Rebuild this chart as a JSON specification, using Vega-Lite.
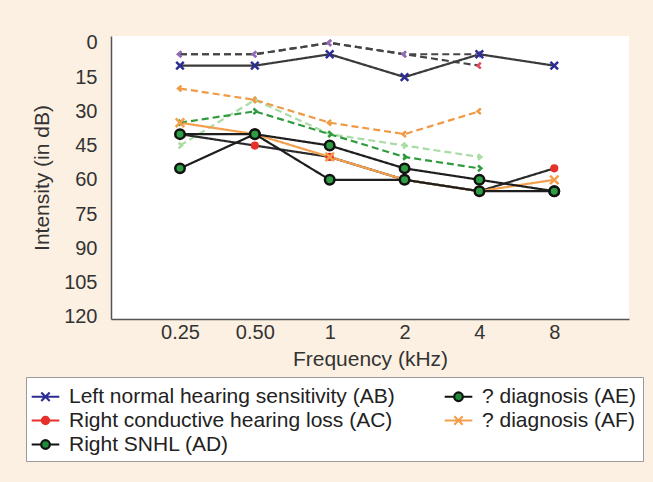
{
  "$schema": "https://vega.github.io/schema/vega-lite/v6.json",
  "width": 518,
  "height": 283,
  "autosize": {"type": "none"},
  "padding": {"left": 111, "top": 36, "right": 24, "bottom": 163},
  "background": "#fcf0e2",
  "config": {
    "font": "Liberation Sans",
    "view": {"fill": "white", "stroke": null},
    "axis": {
      "domainColor": "#555555",
      "domainWidth": 1.5,
      "ticks": false,
      "grid": false,
      "labelFontSize": 20,
      "labelColor": "#333333",
      "titleFontSize": 21,
      "titleFontWeight": "normal",
      "titleColor": "#333333"
    },
    "legend": {
      "labelFontSize": 21,
      "labelColor": "#222222",
      "labelLimit": 500,
      "padding": 6,
      "rowPadding": 0,
      "columnPadding": 45,
      "labelOffset": 10,
      "symbolSize": 576,
      "symbolStrokeWidth": 2.2,
      "strokeColor": "#9a9a9a",
      "fillColor": "#ffffff"
    }
  },
  "data": {
    "values": [
      {"s": "BC (AE)", "c": "bone", "f": "0.25", "db": 45},
      {"s": "BC (AE)", "c": "bone", "f": "0.50", "db": 25},
      {"s": "BC (AE)", "c": "bone", "f": "1", "db": 40},
      {"s": "BC (AE)", "c": "bone", "f": "2", "db": 45},
      {"s": "BC (AE)", "c": "bone", "f": "4", "db": 50},
      {"s": "BC (AD)", "c": "bone", "f": "0.25", "db": 35},
      {"s": "BC (AD)", "c": "bone", "f": "0.50", "db": 30},
      {"s": "BC (AD)", "c": "bone", "f": "1", "db": 40},
      {"s": "BC (AD)", "c": "bone", "f": "2", "db": 50},
      {"s": "BC (AD)", "c": "bone", "f": "4", "db": 55},
      {"s": "BC (AF)", "c": "bone", "f": "0.25", "db": 20},
      {"s": "BC (AF)", "c": "bone", "f": "0.50", "db": 25},
      {"s": "BC (AF)", "c": "bone", "f": "1", "db": 35},
      {"s": "BC (AF)", "c": "bone", "f": "2", "db": 40},
      {"s": "BC (AF)", "c": "bone", "f": "4", "db": 30},
      {"s": "BC right", "c": "bone", "f": "0.25", "db": 5},
      {"s": "BC right", "c": "bone", "f": "0.50", "db": 5},
      {"s": "BC right", "c": "bone", "f": "1", "db": 0},
      {"s": "BC right", "c": "bone", "f": "2", "db": 5},
      {"s": "BC right", "c": "bone", "f": "4", "db": 10},
      {"s": "BC left", "c": "bone", "f": "0.25", "db": 5},
      {"s": "BC left", "c": "bone", "f": "0.50", "db": 5},
      {"s": "BC left", "c": "bone", "f": "1", "db": 0},
      {"s": "BC left", "c": "bone", "f": "2", "db": 5},
      {"s": "BC left", "c": "bone", "f": "4", "db": 5},
      {"s": "Right conductive hearing loss (AC)", "c": "air", "f": "0.25", "db": 40},
      {"s": "Right conductive hearing loss (AC)", "c": "air", "f": "0.50", "db": 45},
      {"s": "Right conductive hearing loss (AC)", "c": "air", "f": "1", "db": 50},
      {"s": "Right conductive hearing loss (AC)", "c": "air", "f": "2", "db": 60},
      {"s": "Right conductive hearing loss (AC)", "c": "air", "f": "4", "db": 65},
      {"s": "Right conductive hearing loss (AC)", "c": "air", "f": "8", "db": 55},
      {"s": "? diagnosis (AF)", "c": "air", "f": "0.25", "db": 35},
      {"s": "? diagnosis (AF)", "c": "air", "f": "0.50", "db": 40},
      {"s": "? diagnosis (AF)", "c": "air", "f": "1", "db": 50},
      {"s": "? diagnosis (AF)", "c": "air", "f": "2", "db": 60},
      {"s": "? diagnosis (AF)", "c": "air", "f": "4", "db": 65},
      {"s": "? diagnosis (AF)", "c": "air", "f": "8", "db": 60},
      {"s": "Left normal hearing sensitivity (AB)", "c": "air", "f": "0.25", "db": 10},
      {"s": "Left normal hearing sensitivity (AB)", "c": "air", "f": "0.50", "db": 10},
      {"s": "Left normal hearing sensitivity (AB)", "c": "air", "f": "1", "db": 5},
      {"s": "Left normal hearing sensitivity (AB)", "c": "air", "f": "2", "db": 15},
      {"s": "Left normal hearing sensitivity (AB)", "c": "air", "f": "4", "db": 5},
      {"s": "Left normal hearing sensitivity (AB)", "c": "air", "f": "8", "db": 10},
      {"s": "Right SNHL (AD)", "c": "air", "f": "0.25", "db": 40},
      {"s": "Right SNHL (AD)", "c": "air", "f": "0.50", "db": 40},
      {"s": "Right SNHL (AD)", "c": "air", "f": "1", "db": 45},
      {"s": "Right SNHL (AD)", "c": "air", "f": "2", "db": 55},
      {"s": "Right SNHL (AD)", "c": "air", "f": "4", "db": 60},
      {"s": "Right SNHL (AD)", "c": "air", "f": "8", "db": 65},
      {"s": "? diagnosis (AE)", "c": "air", "f": "0.25", "db": 55},
      {"s": "? diagnosis (AE)", "c": "air", "f": "0.50", "db": 40},
      {"s": "? diagnosis (AE)", "c": "air", "f": "1", "db": 60},
      {"s": "? diagnosis (AE)", "c": "air", "f": "2", "db": 60},
      {"s": "? diagnosis (AE)", "c": "air", "f": "4", "db": 65},
      {"s": "? diagnosis (AE)", "c": "air", "f": "8", "db": 65}
    ]
  },
  "encoding": {
    "x": {
      "field": "f",
      "type": "ordinal",
      "sort": ["0.25", "0.50", "1", "2", "4", "8"],
      "scale": {"type": "point", "domain": ["0.25", "0.50", "1", "2", "4", "8"], "padding": 0.96, "align": 0.48},
      "axis": {"title": "Frequency (kHz)", "labelAngle": 0, "labelPadding": 3, "titlePadding": 6}
    },
    "y": {
      "field": "db",
      "type": "quantitative",
      "scale": {"domain": [-3, 121], "reverse": true, "nice": false, "zero": false},
      "axis": {"title": "Intensity (in dB)", "values": [0, 15, 30, 45, 60, 75, 90, 105, 120], "labelPadding": 14, "titlePadding": 11}
    }
  },
  "layer": [
    {
      "mark": {"type": "line", "strokeWidth": 2.2},
      "encoding": {
        "stroke": {
          "field": "s",
          "type": "nominal",
          "scale": {
            "domain": ["Left normal hearing sensitivity (AB)", "Right conductive hearing loss (AC)", "Right SNHL (AD)", "? diagnosis (AE)", "? diagnosis (AF)", "BC left", "BC right", "BC (AF)", "BC (AD)", "BC (AE)"],
            "range": ["#3a3a3a", "#2a2a2a", "#1e1e1e", "#1e1e1e", "#f2a04e", "#454545", "#454545", "#f09a45", "#2f9a3e", "#a9dba5"]
          },
          "legend": null
        },
        "strokeDash": {
          "field": "c",
          "type": "nominal",
          "scale": {"domain": ["air", "bone"], "range": [[1, 0], [7, 4]]},
          "legend": null
        }
      }
    },
    {
      "mark": {"type": "point", "opacity": 1, "strokeWidth": 2.5, "size": 90},
      "encoding": {
        "shape": {
          "field": "s",
          "type": "nominal",
          "scale": {
            "domain": ["Left normal hearing sensitivity (AB)", "Right conductive hearing loss (AC)", "Right SNHL (AD)", "? diagnosis (AE)", "? diagnosis (AF)", "BC left", "BC right", "BC (AF)", "BC (AD)", "BC (AE)"],
            "range": [
              "M-0.8,-0.8L0.8,0.8M-0.8,0.8L0.8,-0.8",
              "M-0.6,0A0.6,0.6 0 1,0 0.6,0A0.6,0.6 0 1,0 -0.6,0Z",
              "circle",
              "circle",
              "M-0.9,-0.9L0.9,0.9M-0.9,0.9L0.9,-0.9",
              "M0.3,-0.6L-0.4,0L0.3,0.6",
              "M0.3,-0.6L-0.4,0L0.3,0.6",
              "M0.3,-0.6L-0.4,0L0.3,0.6",
              "M-0.3,-0.6L0.4,0L-0.3,0.6",
              "M-0.3,-0.6L0.4,0L-0.3,0.6"
            ]
          },
          "legend": null
        },
        "fill": {
          "field": "s",
          "type": "nominal",
          "scale": {
            "domain": ["Left normal hearing sensitivity (AB)", "Right conductive hearing loss (AC)", "Right SNHL (AD)", "? diagnosis (AE)", "? diagnosis (AF)", "BC left", "BC right", "BC (AF)", "BC (AD)", "BC (AE)"],
            "range": ["transparent", "#e8302a", "#2e9e45", "#2e9e45", "transparent", "transparent", "transparent", "transparent", "transparent", "transparent"]
          },
          "legend": null
        },
        "stroke": {
          "field": "s",
          "type": "nominal",
          "scale": {
            "domain": ["Left normal hearing sensitivity (AB)", "Right conductive hearing loss (AC)", "Right SNHL (AD)", "? diagnosis (AE)", "? diagnosis (AF)", "BC left", "BC right", "BC (AF)", "BC (AD)", "BC (AE)"],
            "range": ["#2c2d92", "#e8302a", "#111111", "#111111", "#f2a04e", "#8a6fc0", "#e04a5a", "#f09a45", "#2f9a3e", "#a9dba5"]
          },
          "legend": null
        }
      }
    },
    {
      "transform": [{"filter": "datum.s === 'none'"}],
      "mark": {"type": "point", "opacity": 1},
      "encoding": {
        "shape": {
          "field": "s",
          "type": "nominal",
          "scale": {
            "domain": ["Left normal hearing sensitivity (AB)", "? diagnosis (AE)", "Right conductive hearing loss (AC)", "? diagnosis (AF)", "Right SNHL (AD)"],
            "range": [
              "M-1.15,0H1.15M-0.35,-0.35L0.35,0.35M-0.35,0.35L0.35,-0.35",
              "M-1.15,0H-0.36M0.36,0H1.15M-0.36,0A0.36,0.36 0 1,0 0.36,0A0.36,0.36 0 1,0 -0.36,0Z",
              "M-1.15,0H1.15M-0.3,0A0.3,0.3 0 1,0 0.3,0A0.3,0.3 0 1,0 -0.3,0Z",
              "M-1.15,0H1.15M-0.35,-0.35L0.35,0.35M-0.35,0.35L0.35,-0.35",
              "M-1.15,0H-0.36M0.36,0H1.15M-0.36,0A0.36,0.36 0 1,0 0.36,0A0.36,0.36 0 1,0 -0.36,0Z"
            ]
          },
          "legend": {"title": null, "orient": "none", "legendX": -85, "legendY": 341, "columns": 2, "direction": "horizontal"}
        },
        "fill": {
          "field": "s",
          "type": "nominal",
          "scale": {
            "domain": ["Left normal hearing sensitivity (AB)", "? diagnosis (AE)", "Right conductive hearing loss (AC)", "? diagnosis (AF)", "Right SNHL (AD)"],
            "range": ["transparent", "#1f8a3a", "#e8302a", "transparent", "#1f8a3a"]
          },
          "legend": {"title": null, "orient": "none", "legendX": -85, "legendY": 341, "columns": 2, "direction": "horizontal"}
        },
        "stroke": {
          "field": "s",
          "type": "nominal",
          "scale": {
            "domain": ["Left normal hearing sensitivity (AB)", "? diagnosis (AE)", "Right conductive hearing loss (AC)", "? diagnosis (AF)", "Right SNHL (AD)"],
            "range": ["#2c2d92", "#111111", "#e8302a", "#f2a04e", "#111111"]
          },
          "legend": {"title": null, "orient": "none", "legendX": -85, "legendY": 341, "columns": 2, "direction": "horizontal"}
        }
      }
    }
  ],
  "resolve": {"scale": {"shape": "independent", "fill": "independent", "stroke": "independent"}}
}
